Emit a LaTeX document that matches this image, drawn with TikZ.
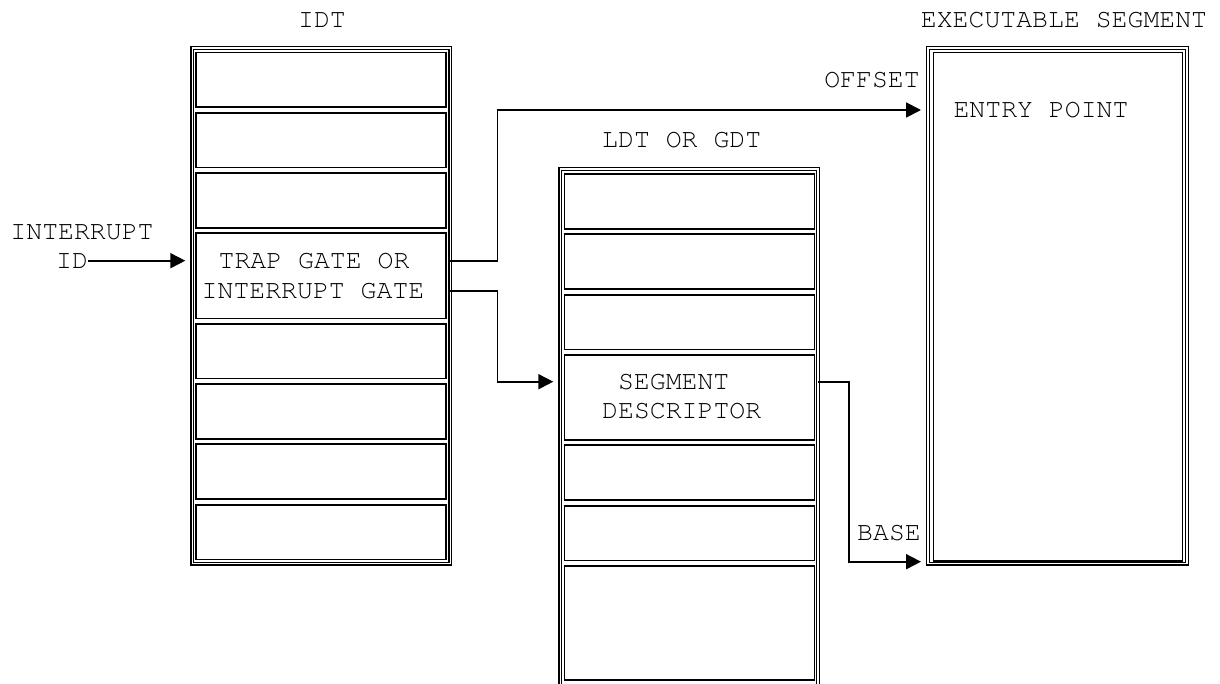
\documentclass[tikz,border=0pt]{standalone}
\usepackage[T1]{fontenc}
\usetikzlibrary{arrows.meta}
\begin{document}
\begin{tikzpicture}[x=1pt,y=-1pt,
  frame/.style={draw, double, line width=1.4pt, double distance=1.3pt, inner sep=0pt, outer sep=0pt},
  cell/.style={draw, line width=1.8pt, inner sep=0pt, outer sep=0pt, minimum width=250pt},
  txt/.style={inner sep=0pt, font=\fontencoding{T1}\fontfamily{pcr}\fontsize{26.5}{30}\selectfont, anchor=base},
  conn/.style={line width=1.8pt, -{Triangle[length=15pt,width=15pt]}, shorten >=7pt}
]
\useasboundingbox (0,0) rectangle (1220,684);
\clip (0,0) rectangle (1220,684);

% frames
\node[frame, minimum width=258.1pt, minimum height=515.6pt] (idt) at (321.35,305.8) {};
\node[frame, minimum width=257.7pt, minimum height=551pt] (ldt) at (689.15,444.5) {};
\node[frame, minimum width=259pt, minimum height=515.6pt] (exe) at (1057.5,305.8) {};

% IDT cells
\node[cell, minimum height=54.8pt] (i1) at (321.25,79.9) {};
\node[cell, minimum height=54.8pt] (i2) at (321.25,140.2) {};
\node[cell, minimum height=54.8pt] (i3) at (321.25,200.5) {};
\node[cell, minimum height=85.1pt] (i4) at (321.25,275.95) {};
\node[cell, minimum height=54.8pt] (i5) at (321.25,351.1) {};
\node[cell, minimum height=54.8pt] (i6) at (321.25,411.4) {};
\node[cell, minimum height=54.8pt] (i7) at (321.25,471.7) {};
\node[cell, minimum height=54.8pt] (i8) at (321.25,532.0) {};

% LDT cells
\node[cell, minimum height=54.8pt] (d1) at (689.5,201.5) {};
\node[cell, minimum height=54.8pt] (d2) at (689.5,261.8) {};
\node[cell, minimum height=54.8pt] (d3) at (689.5,322.1) {};
\node[cell, minimum height=85.1pt] (d4) at (689.5,397.55) {};
\node[cell, minimum height=54.8pt] (d5) at (689.5,472.7) {};
\node[cell, minimum height=54.8pt] (d6) at (689.5,533.0) {};
\node[cell, minimum height=114.1pt] (d7) at (689.5,622.95) {};

% executable segment cell
\node[cell, minimum width=249pt, minimum height=508.5pt] (e1) at (1058,306.75) {};

% texts
\node[txt] (tidt) at (322,27.5) {IDT};
\node[txt] (texe) at (1064,27.5) {EXECUTABLE SEGMENT};
\node[txt] (toff) at (872,87.5) {OFFSET};
\node[txt] (tentry) at (1041,117.5) {ENTRY POINT};
\node[txt] (tldt) at (681.7,147.5) {LDT OR GDT};
\node[txt] (tint) at (82,240) {INTERRUPT};
\node[txt] (tid) at (72,268.5) {ID};
\node[txt] (ttrap1) at (314,268.5) {TRAP GATE OR};
\node[txt] (ttrap2) at (313,298.5) {INTERRUPT GATE};
\node[txt] (tseg1) at (673.7,389.2) {SEGMENT};
\node[txt] (tseg2) at (681.7,418.5) {DESCRIPTOR};
\node[txt] (tbase) at (889,540.2) {BASE};

% connector levels
\coordinate (lo) at (0,110);
\coordinate (l1) at (0,260.7);
\coordinate (l2) at (0,291);
\coordinate (ls) at (0,381.7);
\coordinate (lb) at (0,561.7);

% connectors
\draw[conn] (tid.east |- l1) -- (idt.west |- l1);
\draw[conn] (idt.east |- l1) -- ++(47,0) |- (exe.west |- lo);
\draw[conn] (idt.east |- l2) -- ++(47,0) |- (ldt.west |- ls);
\draw[conn] (ldt.east |- ls) -- ++(31.3,0) |- (exe.west |- lb);
\end{tikzpicture}
\end{document}
